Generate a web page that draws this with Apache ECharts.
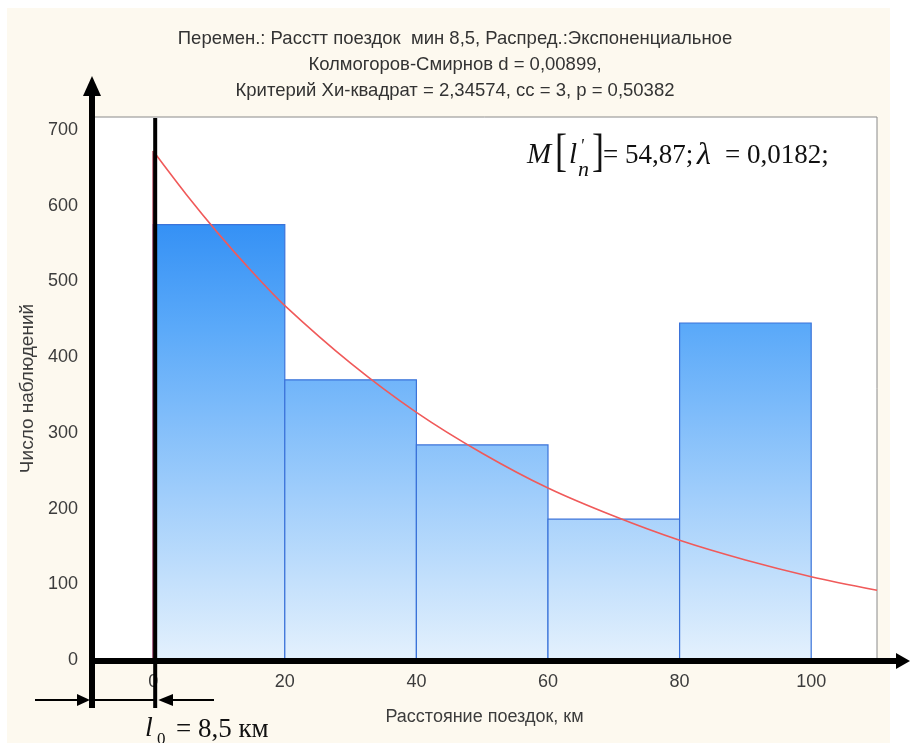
<!DOCTYPE html>
<html>
<head>
<meta charset="utf-8">
<script src="https://cdn.jsdelivr.net/npm/echarts@6/dist/echarts.min.js"></script>
<style>
  html, body { margin: 0; padding: 0; background: #fff; }
  #main { width: 910px; height: 743px; }
</style>
</head>
<body>
<div id="main"></div>
<script>
// гистограмма: [начало интервала, конец интервала, число наблюдений]
const bins = [
  [0, 20, 575],
  [20, 40, 370],
  [40, 60, 284],
  [60, 80, 186],
  [80, 100, 445]
]
// экспоненциальная кривая
const curveX = [0, 5, 10, 15, 20, 30, 40, 50, 60, 70, 80, 90, 100, 110]
const curveY = [672, 615, 562, 513, 468, 392, 327, 273, 227, 190, 158, 132, 110, 92]
const xTicks = [0, 20, 40, 60, 80, 100]
const yTicks = [0, 100, 200, 300, 400, 500, 600, 700]

const titleLines = [
  'Перемен.: Расстт поездок  мин 8,5, Распред.:Экспоненциальное',
  'Колмогоров-Смирнов d = 0,00899,',
  'Критерий Хи-квадрат = 2,34574, cc = 3, p = 0,50382'
]

const curve = curveX.map((x, i) => [x, curveY[i]])

const barFill = new echarts.graphic.LinearGradient(0, 130, 0, 660, [
  {offset: 0, color: '#2688f4'},
  {offset: 0.18, color: '#3591f5'},
  {offset: 0.37, color: '#5aa9f9'},
  {offset: 1, color: '#e4f1fd'}
], true)

const labelFont = {fontFamily: 'Liberation Sans, Arial, sans-serif', color: '#3c3c3c'}

const chart = echarts.init(document.getElementById('main'))
chart.setOption({
  animation: false,
  backgroundColor: '#fff',
  title: {
    text: titleLines.join('\n'),
    left: 'center',
    top: 26,
    padding: 0,
    textStyle: {
      fontFamily: 'Liberation Sans, Arial, sans-serif',
      fontWeight: 'normal',
      fontSize: 18.5,
      lineHeight: 26,
      color: '#333'
    }
  },
  grid: {
    left: 92,
    right: 33,
    top: 117,
    bottom: 83,
    show: true,
    backgroundColor: '#fff',
    borderColor: '#8a8a8a',
    borderWidth: 1,
    z: 1
  },
  xAxis: [{
    type: 'value',
    min: -9.3,
    max: 110,
    name: 'Расстояние поездок, км',
    nameLocation: 'middle',
    nameGap: 48,
    nameTextStyle: {...labelFont, fontSize: 18},
    axisLine: {show: false},
    axisTick: {show: false, customValues: xTicks},
    axisLabel: {...labelFont, fontSize: 18, margin: 13, customValues: xTicks},
    splitLine: {show: true, lineStyle: {color: '#e2e2e2'}}
  }, {
    type: 'value',
    position: 'top',
    min: -9.3,
    max: 110,
    axisLine: {show: false},
    axisTick: {show: true, inside: true, length: 4, customValues: xTicks, lineStyle: {color: '#777'}},
    axisLabel: {show: false},
    splitLine: {show: false}
  }],
  yAxis: [{
    type: 'value',
    min: 0,
    max: 717,
    name: 'Число наблюдений',
    nameLocation: 'middle',
    nameGap: 54,
    nameTextStyle: {...labelFont, fontSize: 19},
    axisLine: {show: false},
    axisTick: {show: false, customValues: yTicks},
    axisLabel: {...labelFont, fontSize: 18, margin: 14, customValues: yTicks},
    splitLine: {show: true, lineStyle: {color: '#e2e2e2', width: 1.5}}
  }, {
    type: 'value',
    position: 'right',
    min: 0,
    max: 717,
    axisLine: {show: false},
    axisTick: {show: true, inside: true, length: 4, customValues: yTicks, lineStyle: {color: '#777'}},
    axisLabel: {show: false},
    splitLine: {show: false}
  }],
  series: [{
    type: 'custom',
    data: bins,
    z: 2,
    renderItem: (params, api) => {
      const top = api.coord([api.value(0), api.value(2)])
      const base = api.coord([api.value(1), 0])
      return {
        type: 'rect',
        shape: {x: top[0], y: top[1], width: base[0] - top[0], height: base[1] - top[1]},
        style: {fill: barFill, stroke: '#3b73d9', lineWidth: 1.2}
      }
    }
  }, {
    type: 'line',
    data: [[0, 0], [0, curveY[0]]],
    symbol: 'none',
    z: 3,
    lineStyle: {color: '#a0203a', width: 1.5}
  }, {
    type: 'line',
    data: curve,
    smooth: 0.3,
    symbol: 'none',
    z: 3,
    lineStyle: {color: '#f05a5a', width: 1.6}
  }]
})

// оформление: толстые оси со стрелками и пояснения
const x0 = chart.convertToPixel({xAxisIndex: 0}, 0) + 2
const yZero = chart.convertToPixel({yAxisIndex: 0}, 0) + 1
const axX = 92
const black = {fill: '#000'}
const serif = 'Liberation Serif, Times New Roman, serif'

// текст по центру строки (y — середина кегля)
function txt(x, y, text, size, italic, scaleY) {
  return {
    type: 'text', x: x, y: y, z: 20,
    scaleY: scaleY || 1,
    style: {
      text: text, fontFamily: serif, fontSize: size,
      fontStyle: italic ? 'italic' : 'normal',
      fill: '#111', verticalAlign: 'middle'
    }
  }
}

chart.setOption({
  graphic: [
    // кремовый фон подложки
    {type: 'rect', z: -10, silent: true, shape: {x: 7, y: 8, width: 883, height: 735}, style: {fill: '#fdf9ef'}},
    // вертикальная ось со стрелкой
    {type: 'line', z: 15, shape: {x1: axX, y1: 93, x2: axX, y2: 708}, style: {stroke: '#000', lineWidth: 6}},
    {type: 'polygon', z: 15, shape: {points: [[axX, 76], [axX - 9, 96], [axX + 9, 96]]}, style: black},
    // горизонтальная ось со стрелкой
    {type: 'line', z: 15, shape: {x1: axX - 3, y1: yZero, x2: 898, y2: yZero}, style: {stroke: '#000', lineWidth: 6}},
    {type: 'polygon', z: 15, shape: {points: [[910, yZero], [896, yZero - 8], [896, yZero + 8]]}, style: black},
    // линия x = 0
    {type: 'line', z: 15, shape: {x1: x0, y1: 118, x2: x0, y2: 708}, style: {stroke: '#000', lineWidth: 4}},
    // размерная линия l0
    {type: 'line', z: 15, shape: {x1: 35, y1: 700, x2: 80, y2: 700}, style: {stroke: '#000', lineWidth: 2}},
    {type: 'polygon', z: 15, shape: {points: [[axX - 2, 700], [77, 694], [77, 706]]}, style: black},
    {type: 'line', z: 15, shape: {x1: axX, y1: 700, x2: x0, y2: 700}, style: {stroke: '#000', lineWidth: 2}},
    {type: 'line', z: 15, shape: {x1: 172, y1: 700, x2: 214, y2: 700}, style: {stroke: '#000', lineWidth: 2}},
    {type: 'polygon', z: 15, shape: {points: [[x0 + 3, 700], [173, 694], [173, 706]]}, style: black},
    txt(145, 729, 'l', 28, true),
    txt(157, 740, '0', 17, false),
    txt(176, 730, '= 8,5 км', 27, false),
    // формула в правом верхнем углу
    txt(527, 155, 'M', 29, true),
    txt(555, 154, '[', 36, false, 1.3),
    txt(569, 155, 'l', 29, true),
    txt(580, 147, '\'', 18, true),
    txt(578, 170, 'n', 22, true),
    txt(592, 154, ']', 36, false, 1.3),
    txt(603, 156, '= 54,87;', 27, false),
    txt(697, 156, 'λ', 32, true),
    txt(725, 156, '= 0,0182;', 27, false)
  ]
})
</script>
</body>
</html>
